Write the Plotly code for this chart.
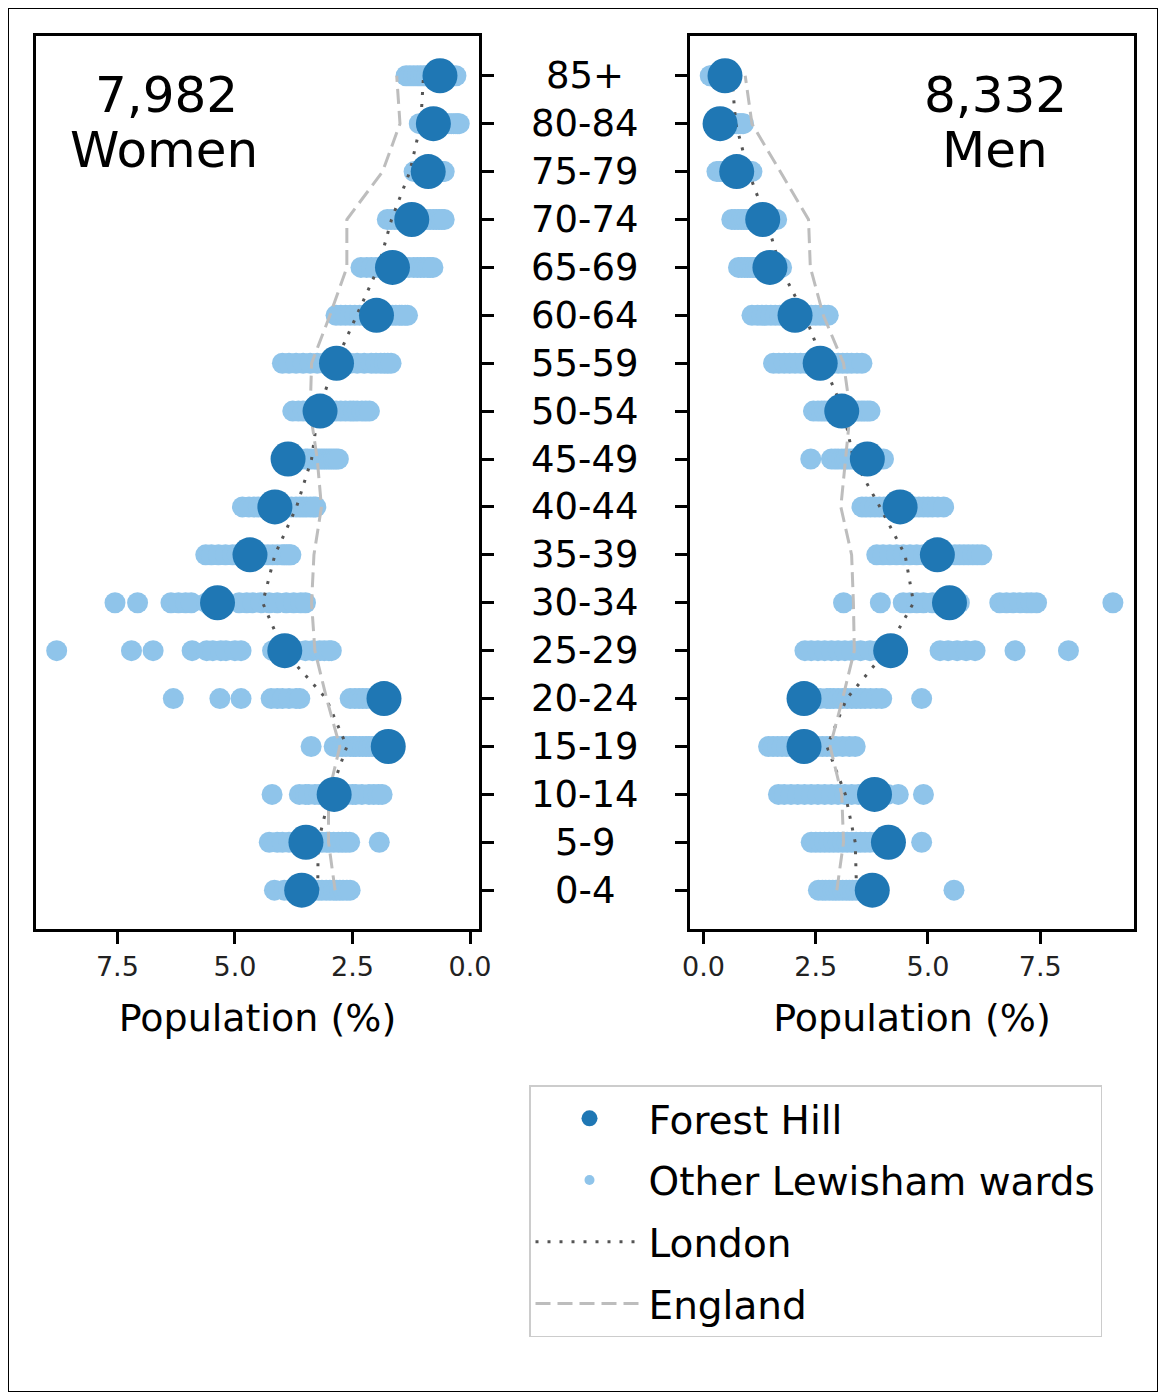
import plotly.graph_objects as go

age_groups = ["0-4", "5-9", "10-14", "15-19", "20-24", "25-29", "30-34", "35-39",
              "40-44", "45-49", "50-54", "55-59", "60-64", "65-69", "70-74",
              "75-79", "80-84", "85+"]

women_total = "7,982"
men_total = "8,332"

# Forest Hill (% of population)
women_fh = [3.58, 3.49, 2.89, 1.74, 1.83, 3.94, 5.37, 4.68, 4.15, 3.87,
            3.19, 2.84, 1.99, 1.65, 1.24, 0.89, 0.78, 0.64]
men_fh = [3.76, 4.12, 3.81, 2.24, 2.24, 4.17, 5.48, 5.21, 4.38, 3.65,
          3.08, 2.60, 2.04, 1.48, 1.32, 0.74, 0.37, 0.48]

# London
women_london = [3.24, 3.23, 2.98, 2.62, 3.06, 3.97, 4.41, 4.15, 3.69, 3.37,
                3.23, 2.87, 2.41, 1.95, 1.67, 1.28, 1.05, 0.99]
men_london = [3.41, 3.38, 3.16, 2.75, 3.19, 4.08, 4.68, 4.49, 3.93, 3.34,
              3.12, 2.67, 2.26, 1.71, 1.40, 1.00, 0.72, 0.63]

# England
women_england = [2.87, 3.01, 3.01, 2.77, 3.05, 3.30, 3.37, 3.32, 3.16, 3.25,
                 3.40, 3.37, 2.98, 2.62, 2.62, 1.86, 1.49, 1.56]
men_england = [2.97, 3.12, 3.08, 2.82, 3.10, 3.36, 3.34, 3.30, 3.06, 3.16,
               3.27, 3.12, 2.67, 2.38, 2.34, 1.71, 1.08, 0.93]

# Other Lewisham wards, one list per age group (0-4 ... 85+)
women_other = [
    [4.16, 3.95, 3.85, 3.7, 3.62, 3.5, 3.4, 3.3, 3.22, 3.15, 3.06, 2.98, 2.9, 2.84, 2.77, 2.7, 2.62, 2.55],
    [4.27, 4.1, 3.99, 3.85, 3.7, 3.6, 3.45, 3.35, 3.25, 3.15, 3.05, 2.99, 2.9, 2.8, 2.72, 2.64, 2.56, 1.93],
    [4.21, 3.63, 3.5, 3.43, 3.3, 3.21, 3.1, 3.0, 2.9, 2.75, 2.6, 2.5, 2.43, 2.3, 2.15, 2.05, 1.95, 1.87],
    [3.38, 2.89, 2.8, 2.72, 2.64, 2.55, 2.48, 2.43, 2.35, 2.28, 2.21, 2.15, 2.08, 2.0, 1.95, 1.88, 1.8, 1.72],
    [6.31, 5.32, 4.87, 4.23, 4.1, 3.99, 3.85, 3.70, 3.62, 2.55, 2.45, 2.36, 2.28, 2.2, 2.1, 2.0, 1.95, 1.88],
    [8.79, 7.20, 6.74, 5.91, 5.6, 5.47, 5.3, 5.19, 5.0, 4.87, 4.2, 3.7, 3.5, 3.35, 3.2, 3.1, 3.0, 2.95],
    [7.55, 7.07, 6.36, 6.2, 6.05, 5.93, 5.6, 5.2, 4.91, 4.75, 4.62, 4.45, 4.27, 4.1, 3.91, 3.75, 3.6, 3.5],
    [5.62, 5.5, 5.35, 5.2, 5.05, 4.95, 4.8, 4.6, 4.5, 4.4, 4.3, 4.2, 4.1, 4.0, 3.95, 3.9, 3.85, 3.81],
    [4.84, 4.7, 4.6, 4.5, 4.4, 4.3, 4.2, 4.1, 4.0, 3.9, 3.8, 3.7, 3.62, 3.55, 3.48, 3.4, 3.33, 3.28],
    [3.9, 3.8, 3.7, 3.6, 3.5, 3.45, 3.38, 3.3, 3.25, 3.2, 3.15, 3.1, 3.05, 3.0, 2.95, 2.9, 2.85, 2.8],
    [3.77, 3.65, 3.55, 3.45, 3.35, 3.25, 3.15, 3.05, 2.95, 2.85, 2.75, 2.65, 2.55, 2.48, 2.4, 2.3, 2.22, 2.14],
    [3.99, 3.85, 3.7, 3.55, 3.4, 3.25, 3.1, 2.95, 2.7, 2.55, 2.4, 2.25, 2.1, 2.0, 1.9, 1.82, 1.75, 1.68],
    [2.85, 2.75, 2.65, 2.55, 2.45, 2.35, 2.25, 2.15, 2.05, 1.95, 1.85, 1.75, 1.65, 1.58, 1.5, 1.45, 1.38, 1.33],
    [2.32, 2.2, 2.1, 2.0, 1.9, 1.8, 1.7, 1.6, 1.5, 1.4, 1.3, 1.2, 1.12, 1.05, 0.98, 0.9, 0.85, 0.79],
    [1.76, 1.68, 1.6, 1.52, 1.45, 1.38, 1.3, 1.22, 1.15, 1.08, 1.0, 0.92, 0.85, 0.78, 0.72, 0.66, 0.6, 0.55],
    [1.19, 1.12, 1.08, 1.03, 0.98, 0.94, 0.9, 0.86, 0.82, 0.78, 0.75, 0.72, 0.68, 0.65, 0.62, 0.6, 0.58, 0.55],
    [1.08, 1.0, 0.95, 0.9, 0.85, 0.8, 0.75, 0.7, 0.65, 0.6, 0.55, 0.5, 0.45, 0.4, 0.35, 0.3, 0.26, 0.23],
    [1.36, 1.28, 1.2, 1.12, 1.05, 0.98, 0.92, 0.86, 0.8, 0.75, 0.7, 0.65, 0.6, 0.55, 0.5, 0.45, 0.38, 0.30],
]

men_other = [
    [2.56, 2.65, 2.72, 2.8, 2.88, 2.95, 3.02, 3.1, 3.18, 3.25, 3.32, 3.4, 3.49, 3.6, 3.7, 3.8, 3.9, 5.58],
    [2.40, 2.5, 2.6, 2.7, 2.8, 2.9, 3.0, 3.1, 3.2, 3.3, 3.4, 3.5, 3.6, 3.71, 3.85, 4.0, 4.15, 4.86],
    [1.67, 1.8, 1.95, 2.1, 2.25, 2.4, 2.55, 2.7, 2.85, 3.0, 3.15, 3.3, 3.45, 3.6, 3.9, 4.1, 4.34, 4.90],
    [1.45, 1.55, 1.65, 1.75, 1.85, 1.95, 2.05, 2.15, 2.3, 2.45, 2.55, 2.65, 2.75, 2.85, 2.95, 3.1, 3.25, 3.38],
    [2.1, 2.3, 2.45, 2.6, 2.75, 2.82, 2.9, 3.0, 3.1, 3.2, 3.3, 3.4, 3.5, 3.6, 3.72, 3.85, 3.97, 4.86],
    [2.26, 2.4, 2.55, 2.7, 2.85, 3.0, 3.15, 3.3, 3.5, 3.71, 3.9, 5.27, 5.45, 5.65, 5.85, 6.05, 6.94, 8.13],
    [3.12, 3.94, 4.45, 4.6, 4.75, 4.9, 5.1, 5.3, 5.6, 5.7, 6.6, 6.75, 6.9, 7.05, 7.2, 7.3, 7.42, 9.12],
    [3.86, 4.0, 4.15, 4.3, 4.45, 4.6, 4.75, 4.9, 5.05, 5.3, 5.45, 5.6, 5.7, 5.8, 5.9, 6.0, 6.1, 6.2],
    [3.53, 3.62, 3.72, 3.82, 3.92, 4.02, 4.12, 4.22, 4.35, 4.5, 4.6, 4.7, 4.8, 4.9, 5.0, 5.1, 5.22, 5.35],
    [2.39, 2.85, 2.93, 3.0, 3.08, 3.15, 3.19, 3.25, 3.32, 3.4, 3.48, 3.55, 3.62, 3.7, 3.78, 3.85, 3.93, 4.01],
    [2.45, 2.55, 2.63, 2.7, 2.78, 2.85, 2.92, 3.0, 3.08, 3.15, 3.22, 3.3, 3.38, 3.45, 3.52, 3.58, 3.65, 3.71],
    [1.56, 1.68, 1.8, 1.92, 2.04, 2.16, 2.28, 2.4, 2.52, 2.64, 2.76, 2.88, 3.0, 3.1, 3.2, 3.3, 3.42, 3.53],
    [1.08, 1.2, 1.3, 1.4, 1.5, 1.6, 1.7, 1.8, 1.9, 2.0, 2.1, 2.2, 2.3, 2.4, 2.5, 2.6, 2.7, 2.78],
    [0.78, 0.85, 0.92, 0.98, 1.04, 1.1, 1.16, 1.22, 1.28, 1.34, 1.4, 1.46, 1.52, 1.57, 1.62, 1.66, 1.7, 1.74],
    [0.63, 0.7, 0.77, 0.84, 0.9, 0.96, 1.02, 1.08, 1.14, 1.2, 1.26, 1.32, 1.38, 1.44, 1.5, 1.55, 1.59, 1.63],
    [0.30, 0.36, 0.42, 0.48, 0.53, 0.58, 0.63, 0.68, 0.72, 0.76, 0.8, 0.84, 0.88, 0.92, 0.96, 1.0, 1.04, 1.08],
    [0.22, 0.26, 0.3, 0.34, 0.38, 0.42, 0.46, 0.5, 0.54, 0.58, 0.62, 0.66, 0.7, 0.74, 0.78, 0.82, 0.86, 0.89],
    [0.15, 0.18, 0.21, 0.24, 0.27, 0.3, 0.33, 0.36, 0.39, 0.42, 0.45, 0.48, 0.5, 0.52, 0.54, 0.56, 0.58, 0.59],
]

x_ticks = [0.0, 2.5, 5.0, 7.5]
x_tick_text = ["0.0", "2.5", "5.0", "7.5"]

FONT = "DejaVu Sans"
DARK = "#1f77b4"
LIGHT = "#8fc4ea"
LONDON_C = "#555555"
ENGLAND_C = "#bdbdbd"

# figure fits inside the 1166x1400 window with the page's 8px body margin
W, H = 1150, 1384
OFF = 8  # page margin; reference pixel = figure pixel + OFF


def px(xr):
    return (xr - OFF) / W


def py(yr):
    return 1 - (yr - OFF) / H


def flat(rows):
    xs, ys = [], []
    for age, row in zip(age_groups, rows):
        for v in row:
            xs.append(v)
            ys.append(age)
    return xs, ys


fig = go.Figure()

panels = [
    ("x", "y", women_other, women_fh, women_london, women_england),
    ("x2", "y2", men_other, men_fh, men_london, men_england),
]

for xa, ya, other, fh, lon, eng in panels:
    ox, oy = flat(other)
    fig.add_trace(go.Scatter(
        x=ox, y=oy, xaxis=xa, yaxis=ya, mode="markers",
        marker=dict(size=21, color=LIGHT, line=dict(width=0)),
        name="Other Lewisham wards", legendgroup="other", showlegend=False))
    fig.add_trace(go.Scatter(
        x=lon, y=age_groups, xaxis=xa, yaxis=ya, mode="lines",
        line=dict(color=LONDON_C, width=3, dash="3px,9px"),
        name="London", legendgroup="london", showlegend=False))
    fig.add_trace(go.Scatter(
        x=eng, y=age_groups, xaxis=xa, yaxis=ya, mode="lines",
        line=dict(color=ENGLAND_C, width=3, dash="15px,7px"),
        name="England", legendgroup="england", showlegend=False))
    fig.add_trace(go.Scatter(
        x=fh, y=age_groups, xaxis=xa, yaxis=ya, mode="markers",
        marker=dict(size=35, color=DARK, line=dict(width=0)),
        name="Forest Hill", legendgroup="fh", showlegend=False))

# legend entries (no data, legend symbols only)
legend_items = [
    dict(name="Forest Hill", group="fh", mode="markers",
         marker=dict(size=16, color=DARK)),
    dict(name="Other Lewisham wards", group="other", mode="markers",
         marker=dict(size=10, color=LIGHT)),
    dict(name="London", group="london", mode="lines",
         line=dict(color=LONDON_C, width=3, dash="3px,9px")),
    dict(name="England", group="england", mode="lines",
         line=dict(color=ENGLAND_C, width=3, dash="15px,7px")),
]
for rank, it in enumerate(legend_items, start=1):
    kw = dict(x=[None], y=[None], mode=it["mode"], name=it["name"],
              legendgroup=it["group"], legendrank=rank, showlegend=True,
              xaxis="x2", yaxis="y2", hoverinfo="skip")
    if "marker" in it:
        kw["marker"] = it["marker"]
    if "line" in it:
        kw["line"] = it["line"]
    fig.add_trace(go.Scatter(**kw))

left_dom = [px(36), px(479)]
right_dom = [px(690), px(1134)]
y_dom = [py(929), py(36)]

axis_common = dict(
    showline=True, mirror=True, linecolor="black", linewidth=2.5,
    showgrid=False, zeroline=False, ticks="outside", ticklen=12,
    tickwidth=2.5, tickcolor="black",
)

fig.update_layout(
    width=W, height=H,
    margin=dict(l=0, r=0, t=0, b=0, autoexpand=False),
    paper_bgcolor="white", plot_bgcolor="white",
    font=dict(family=FONT, color="black"),
    xaxis=dict(domain=left_dom, anchor="y", range=[9.23, -0.19],
               tickvals=x_ticks, ticktext=x_tick_text,
               tickfont=dict(size=27, color="#222222"),
               title=dict(text="Population (%)", font=dict(size=38), standoff=24),
               **axis_common),
    yaxis=dict(domain=y_dom, anchor="x", side="right", type="category",
               categoryorder="array", categoryarray=age_groups,
               range=[-0.81, 17.83], showticklabels=False, **axis_common),
    xaxis2=dict(domain=right_dom, anchor="y2", range=[-0.30, 9.59],
                tickvals=x_ticks, ticktext=x_tick_text,
                tickfont=dict(size=27, color="#222222"),
                title=dict(text="Population (%)", font=dict(size=38), standoff=24),
                **axis_common),
    yaxis2=dict(domain=y_dom, anchor="x2", side="left", type="category",
                categoryorder="array", categoryarray=age_groups,
                range=[-0.81, 17.83], showticklabels=False, **axis_common),
    legend=dict(
        x=px(529), y=py(1085), xanchor="left", yanchor="top",
        bordercolor="#cccccc", borderwidth=1.5, bgcolor="white",
        font=dict(size=39, family=FONT), tracegroupgap=8,
        itemwidth=108,
    ),
    showlegend=True,
)

# Age labels in the middle
for age in age_groups:
    fig.add_annotation(x=px(585), xref="paper", y=age, yref="y", text=age,
                       showarrow=False, xanchor="center", yanchor="middle",
                       font=dict(size=37, family=FONT))

# Totals
for txt, xr, yr in [(women_total, 166, 95), ("Women", 164, 150),
                    (men_total, 995, 95), ("Men", 995, 150)]:
    fig.add_annotation(x=px(xr), y=py(yr), xref="paper", yref="paper",
                       text=txt, showarrow=False, xanchor="center",
                       yanchor="middle", font=dict(size=50, family=FONT))

fig.add_shape(type="rect", xref="paper", yref="paper", x0=0, x1=1, y0=0, y1=1,
              line=dict(color="black", width=2))

fig.write_html("out.html")
